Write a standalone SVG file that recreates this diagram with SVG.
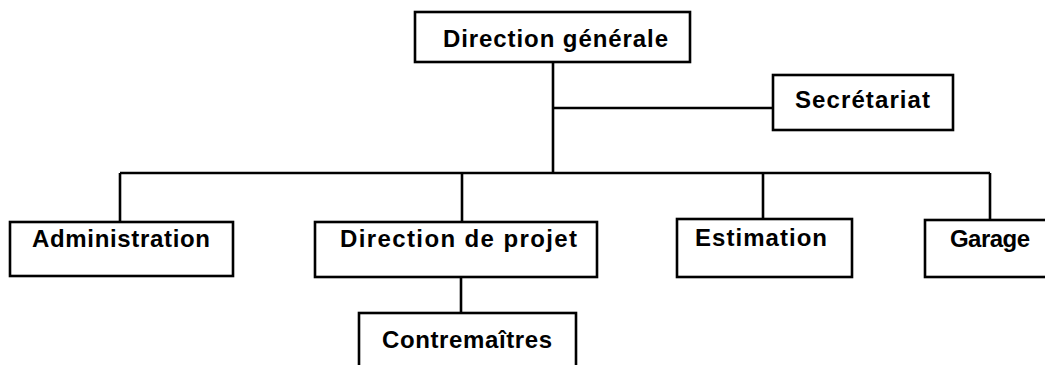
<svg xmlns="http://www.w3.org/2000/svg" width="1045" height="365" viewBox="0 0 1045 365">
<style>
.box{fill:#fff;stroke:#000;stroke-width:2.6}
.lbl{font-family:"Liberation Sans",Arial,sans-serif;font-size:24px;fill:#000;font-weight:bold}
.con{fill:none;stroke:#000;stroke-width:2.6}
</style>
<rect width="1045" height="365" fill="#fff"/>
<g id="connectors">
<path class="con" d="M553 62 V173"/>
<path class="con" d="M553 108 H773"/>
<path class="con" d="M120 173 H990"/>
<path class="con" d="M120 173 V222"/>
<path class="con" d="M462 173 V222"/>
<path class="con" d="M763 173 V219"/>
<path class="con" d="M990 173 V220"/>
<path class="con" d="M461 277 V313"/>
</g>
<g id="n-direction-generale">
<rect class="box" x="415" y="12" width="275" height="50"/>
<text class="lbl" x="443" y="47" textLength="225" lengthAdjust="spacing">Direction générale</text>
</g>
<g id="n-secretariat">
<rect class="box" x="773" y="75" width="180" height="55"/>
<text class="lbl" x="795" y="108" textLength="135" lengthAdjust="spacing">Secrétariat</text>
</g>
<g id="n-administration">
<rect class="box" x="10" y="222" width="223" height="54"/>
<text class="lbl" x="32" y="247" textLength="178" lengthAdjust="spacing">Administration</text>
</g>
<g id="n-direction-projet">
<rect class="box" x="315" y="222" width="282" height="55"/>
<text class="lbl" x="340" y="247" textLength="237" lengthAdjust="spacing">Direction de projet</text>
</g>
<g id="n-estimation">
<rect class="box" x="677" y="219" width="175" height="58"/>
<text class="lbl" x="695" y="246" textLength="132" lengthAdjust="spacing">Estimation</text>
</g>
<g id="n-garage">
<rect class="box" x="925" y="220" width="130" height="57"/>
<text class="lbl" x="950" y="247" textLength="80" lengthAdjust="spacing">Garage</text>
</g>
<g id="n-contremaitres">
<rect class="box" x="359" y="313" width="217" height="60"/>
<text class="lbl" x="382" y="348" textLength="170" lengthAdjust="spacing">Contremaîtres</text>
</g>
</svg>
